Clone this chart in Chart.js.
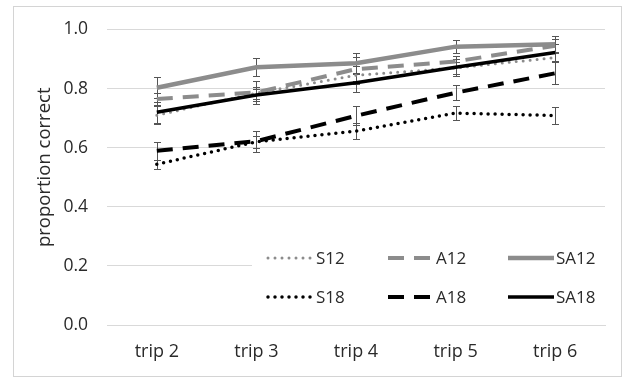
<!DOCTYPE html>
<html lang="en">
<head>
<meta charset="UTF-8">
<title>Proportion correct by trip</title>
<script src="https://cdn.jsdelivr.net/npm/chart.js"></script>
<style>
    html, body {
        margin: 0;
        padding: 0;
        background: #fff;
    }

    #wrap {
        position: relative;
        width: 633px;
        height: 379px;
    }

    #frame {
        position: absolute;
        left: 13px;
        top: 6px;
        width: 607px;
        height: 369px;
        border: 1px solid #d4d4d4;
        pointer-events: none;
    }
</style>
</head>
<body>
<div id="wrap">
    <canvas id="chart" width="633" height="379"></canvas>
    <div id="frame"></div>
</div>

<script>
    // categories and axis ticks
    const trips = ["trip 2", "trip 3", "trip 4", "trip 5", "trip 6"];
    const yTicks = [0, 0.2, 0.4, 0.6, 0.8, 1.0];
    const yTitle = "proportion correct";

    // series values
    const s12 = [0.71, 0.785, 0.845, 0.87, 0.905];
    const a12 = [0.765, 0.787, 0.866, 0.892, 0.945];
    const sa12 = [0.803, 0.872, 0.886, 0.942, 0.95];
    const s18 = [0.544, 0.62, 0.656, 0.717, 0.709];
    const a18 = [0.59, 0.622, 0.708, 0.786, 0.852];
    const sa18 = [0.72, 0.778, 0.82, 0.872, 0.922];

    // error bar half widths
    const s12Err = [0.03, 0.02, 0.03, 0.02, 0.015];
    const a12Err = [0.02, 0.04, 0.04, 0.02, 0.022];
    const sa12Err = [0.035, 0.03, 0.033, 0.022, 0.028];
    const s18Err = [0.016, 0.02, 0.026, 0.024, 0.029];
    const a18Err = [0.03, 0.035, 0.032, 0.025, 0.038];
    const sa18Err = [0.035, 0.02, 0.03, 0.028, 0.03];

    const GRAY = "#8c8c8c";
    const BLACK = "#000";
    const FONT = "'Open Sans', 'Noto Sans', sans-serif";
    const TEXT = "#2a2a2a";

    const dotted = { borderDash: [0, 7], borderCapStyle: "round", borderWidth: 3.5 };
    const dashed = { borderDash: [16, 10], borderCapStyle: "butt", borderWidth: 4 };
    const solid = { borderDash: [], borderCapStyle: "butt", borderWidth: 4 };

    const series = [
        { label: "S12", data: s12, errors: s12Err, color: GRAY, style: { ...dotted, borderWidth: 3 } },
        { label: "A12", data: a12, errors: a12Err, color: GRAY, style: dashed },
        { label: "SA12", data: sa12, errors: sa12Err, color: GRAY, style: { ...solid, borderWidth: 4.5 } },
        { label: "S18", data: s18, errors: s18Err, color: BLACK, style: dotted },
        { label: "A18", data: a18, errors: a18Err, color: BLACK, style: dashed },
        { label: "SA18", data: sa18, errors: sa18Err, color: BLACK, style: { ...solid, borderWidth: 3.5 } }
    ];

    // error bars go under the lines
    const errorBars = {
        id: "errorBars",
        beforeDatasetsDraw(chart) {
            const { ctx, scales: { x, y } } = chart;
            const cap = 3.5;
            ctx.save();
            ctx.strokeStyle = "#555";
            ctx.lineWidth = 1;
            chart.data.datasets.forEach(ds => {
                ds.data.forEach((v, i) => {
                    const e = ds.errors[i];
                    const px = Math.round(x.getPixelForValue(i)) + 0.5;
                    const top = Math.round(y.getPixelForValue(v + e)) + 0.5;
                    const bot = Math.round(y.getPixelForValue(v - e)) + 0.5;
                    ctx.beginPath();
                    ctx.moveTo(px, top);
                    ctx.lineTo(px, bot);
                    ctx.moveTo(px - cap, top);
                    ctx.lineTo(px + cap, top);
                    ctx.moveTo(px - cap, bot);
                    ctx.lineTo(px + cap, bot);
                    ctx.stroke();
                });
            });
            ctx.restore();
        }
    };

    // legend inside the plot, 3 columns x 2 rows
    const insideLegend = {
        id: "insideLegend",
        beforeDatasetsDraw(chart) {
            const { ctx, chartArea } = chart;
            const boxLeft = chartArea.left + 145;
            const colX = [chartArea.left + 161, chartArea.left + 281, chartArea.left + 401];
            const rowY = [chartArea.bottom - 67, chartArea.bottom - 28];
            const sample = 46;

            ctx.save();
            ctx.fillStyle = "#fff";
            ctx.fillRect(boxLeft, chartArea.bottom - 85, chartArea.right - boxLeft, 75);

            ctx.font = "17px " + FONT;
            ctx.textBaseline = "middle";
            ctx.textAlign = "left";

            chart.data.datasets.forEach((ds, i) => {
                const cx = colX[i % 3];
                const cy = rowY[Math.floor(i / 3)];
                ctx.save();
                ctx.strokeStyle = ds.borderColor;
                ctx.lineWidth = ds.borderWidth;
                ctx.lineCap = ds.borderCapStyle;
                ctx.setLineDash(ds.borderDash);
                ctx.beginPath();
                ctx.moveTo(cx, cy);
                ctx.lineTo(cx + sample, cy);
                ctx.stroke();
                ctx.restore();
                ctx.fillStyle = TEXT;
                ctx.fillText(ds.label, cx + sample + 2, cy + 1);
            });
            ctx.restore();
        }
    };

    // y axis title, sits a little above the plot's middle
    const axisTitle = {
        id: "axisTitle",
        afterDraw(chart) {
            const { ctx, chartArea } = chart;
            ctx.save();
            ctx.translate(45, (chartArea.top + chartArea.bottom) / 2 - 10);
            ctx.rotate(-Math.PI / 2);
            ctx.font = "18.5px " + FONT;
            ctx.fillStyle = TEXT;
            ctx.textAlign = "center";
            ctx.textBaseline = "middle";
            ctx.fillText(yTitle, 0, 0);
            ctx.restore();
        }
    };

    const ctx = document.getElementById("chart").getContext("2d");

    new Chart(ctx, {
        type: "line",
        data: {
            labels: trips,
            datasets: series.map((s, i) => ({
                label: s.label,
                data: s.data,
                errors: s.errors,
                borderColor: s.color,
                backgroundColor: s.color,
                fill: false,
                tension: 0,
                pointRadius: 0,
                order: series.length - i,
                ...s.style
            }))
        },
        options: {
            responsive: false,
            animation: false,
            layout: {
                padding: { left: 0, right: 28, top: 25, bottom: 0 }
            },
            plugins: {
                legend: { display: false },
                tooltip: { enabled: false }
            },
            scales: {
                x: {
                    offset: true,
                    grid: { display: false, drawTicks: false },
                    border: { display: true, color: "#d9d9d9", width: 1 },
                    ticks: {
                        padding: 16,
                        color: TEXT,
                        font: { family: FONT, size: 18 }
                    },
                    afterFit: scale => { scale.height = 54; }
                },
                y: {
                    min: 0,
                    max: 1,
                    afterBuildTicks: scale => {
                        scale.ticks = yTicks.map(v => ({ value: v }));
                    },
                    grid: { color: "#d9d9d9", drawTicks: false, lineWidth: 1 },
                    border: { display: false },
                    ticks: {
                        padding: 19,
                        color: TEXT,
                        font: { family: FONT, size: 17.5 },
                        callback: v => Number(v).toFixed(1)
                    },
                    afterFit: scale => { scale.width = 107; }
                }
            }
        },
        plugins: [errorBars, insideLegend, axisTitle]
    });
</script>
</body>
</html>
